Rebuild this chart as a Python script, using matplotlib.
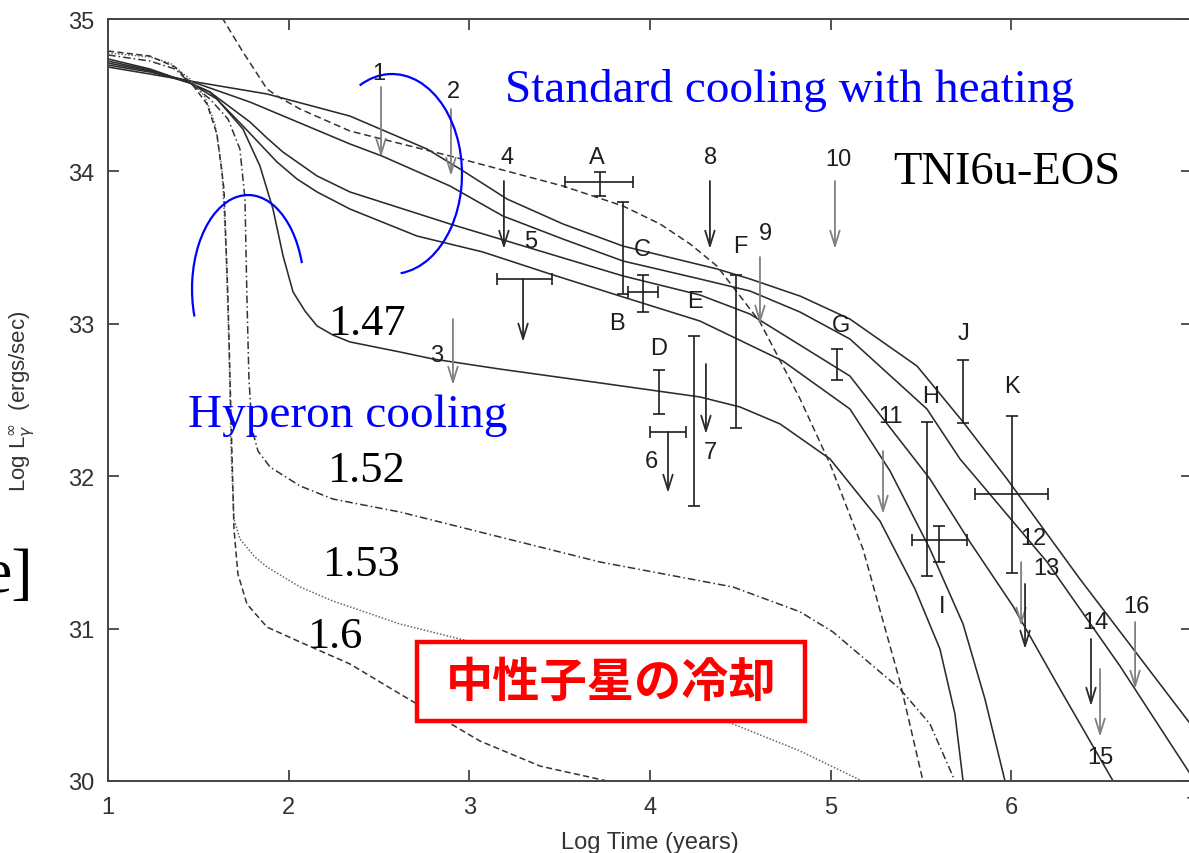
import numpy as np
import matplotlib
matplotlib.use("Agg")
import matplotlib.pyplot as plt
from matplotlib.patches import Arc, Rectangle

# ---------------------------------------------------------------
# Cooling curves: log t (yr) vs log L_gamma^inf (erg/s)
# ---------------------------------------------------------------
# standard cooling with heating (four solid curves)
std_a_x = [1.000, 1.232, 1.454, 1.880, 2.339, 2.765, 2.948, 3.208, 3.518, 3.850,
           4.370, 4.553, 4.830, 5.106, 5.477, 5.732, 5.975, 6.379, 6.982, 7.000]
std_a_y = [34.685, 34.639, 34.593, 34.508, 34.363, 34.147, 34.016, 33.819, 33.655, 33.510,
           33.360, 33.294, 33.182, 33.031, 32.723, 32.356, 31.982, 31.325, 30.387, 30.360]

std_b_x = [1.000, 1.232, 1.454, 1.786, 2.339, 2.516, 2.893, 3.186, 3.518, 3.850,
           4.276, 4.553, 4.830, 5.106, 5.532, 5.715, 5.809, 6.197, 6.600, 6.982, 7.000]
std_b_y = [34.698, 34.652, 34.593, 34.455, 34.180, 34.101, 33.904, 33.707, 33.556, 33.412,
           33.294, 33.215, 33.077, 32.900, 32.441, 32.113, 31.982, 31.437, 30.755, 30.059, 30.030]

std_c_x = [1.000, 1.232, 1.454, 1.564, 1.786, 1.880, 1.968, 2.157, 2.339, 2.893, 3.446,
           3.850, 4.276, 4.553, 5.106, 5.549, 5.770, 6.008, 6.268, 6.562]
std_c_y = [34.711, 34.659, 34.580, 34.521, 34.324, 34.219, 34.127, 33.970, 33.865, 33.655, 33.458,
           33.314, 33.189, 33.064, 32.657, 31.982, 31.568, 31.148, 30.604, 30.000]

std_d_x = [1.000, 1.232, 1.454, 1.564, 1.747, 1.841, 1.935, 2.046, 2.157, 2.339, 2.710, 3.075,
           3.446, 3.850, 4.276, 4.735, 5.106, 5.328, 5.549, 5.732, 5.853, 5.964]
std_d_y = [34.724, 34.665, 34.580, 34.521, 34.298, 34.180, 34.062, 33.950, 33.865, 33.753, 33.576, 33.471,
           33.327, 33.176, 33.018, 32.756, 32.441, 32.034, 31.522, 31.030, 30.538, 30.000]

# heating curve that starts above the frame (dashed)
heat_x = [1.553, 1.636, 1.747, 1.880, 1.935, 2.063, 2.339, 2.893, 3.518, 3.850,
          4.055, 4.221, 4.370, 4.608, 4.830, 4.996, 5.178, 5.383, 5.510]
heat_y = [35.164, 35.000, 34.783, 34.541, 34.495, 34.409, 34.265, 34.101, 33.904, 33.773,
          33.655, 33.524, 33.379, 33.012, 32.507, 32.080, 31.522, 30.650, 30.000]

# hyperon cooling, M = 1.47 (solid)
m147_x = [1.000, 1.232, 1.454, 1.603, 1.747, 1.841, 1.913, 1.969, 2.024, 2.090, 2.157, 2.245,
          2.339, 2.616, 2.799, 3.169, 3.723, 4.276, 4.498, 4.719, 4.996, 5.272, 5.466, 5.604,
          5.687, 5.732]
m147_y = [34.738, 34.672, 34.580, 34.475, 34.278, 34.035, 33.753, 33.445, 33.209, 33.084, 32.986, 32.926,
          32.881, 32.815, 32.769, 32.703, 32.612, 32.520, 32.454, 32.343, 32.113, 31.706, 31.260, 30.866,
          30.440, 30.000]

# M = 1.52 (dash-dot)
m152_x = [1.000, 1.232, 1.371, 1.454, 1.564, 1.664, 1.730, 1.758, 1.769, 1.780, 1.797, 1.830,
          1.897, 2.063, 2.245, 2.616, 3.169, 3.723, 4.459, 4.830, 5.012, 5.383, 5.549, 5.687]
m152_y = [34.764, 34.724, 34.672, 34.580, 34.475, 34.344, 34.147, 33.819, 33.163, 32.638, 32.310, 32.165,
          32.060, 31.936, 31.850, 31.765, 31.601, 31.437, 31.273, 31.110, 30.978, 30.604, 30.374, 30.000]

# M = 1.53 (dotted)
m153_x = [1.000, 1.232, 1.343, 1.454, 1.537, 1.592, 1.631, 1.653, 1.670, 1.681, 1.697,
          1.730, 1.813, 1.880, 2.063, 2.245, 2.616, 3.169, 3.723, 4.348, 4.830, 5.173]
m153_y = [34.777, 34.751, 34.711, 34.606, 34.488, 34.311, 34.016, 33.491, 32.835, 32.178, 31.719,
          31.588, 31.470, 31.404, 31.273, 31.181, 31.030, 30.866, 30.689, 30.427, 30.197, 30.000]

# M = 1.6 (dashed)
m160_x = [1.000, 1.232, 1.371, 1.465, 1.548, 1.603, 1.642, 1.664, 1.681, 1.697,
          1.719, 1.769, 1.880, 2.063, 2.339, 2.616, 3.059, 3.391, 3.762]
m160_y = [34.790, 34.757, 34.685, 34.573, 34.442, 34.245, 33.884, 33.163, 32.375, 31.654,
          31.358, 31.161, 31.010, 30.912, 30.768, 30.571, 30.262, 30.098, 30.000]

# ---------------------------------------------------------------
# Observations
# ---------------------------------------------------------------
# detections with vertical error ranges
det_names = ["A", "B", "C", "D", "E", "F", "G", "H", "I", "J", "K"]
det_x = [3.723, 3.850, 3.961, 4.049, 4.243, 4.475, 5.034, 5.532, 5.599, 5.732, 6.003]
det_ylo = [33.839, 33.196, 33.077, 32.408, 31.804, 32.316, 32.631, 31.345, 31.437, 32.349, 31.365]
det_yhi = [33.996, 33.799, 33.320, 32.697, 32.920, 33.320, 32.835, 32.356, 31.673, 32.762, 32.395]
# detections that also carry an age range (name -> x_lo, x_hi, y)
age_names = ["A", "C", "I", "K"]
age_xlo = [3.529, 3.878, 5.449, 5.798]
age_xhi = [3.905, 4.044, 5.754, 6.202]
age_y = [33.930, 33.209, 31.581, 31.883]
det_label_x = [3.706, 3.817, 3.955, 4.049, 4.248, 4.498, 5.056, 5.555, 5.615, 5.732, 6.003]
det_label_y = [34.094, 33.005, 33.491, 32.841, 33.149, 33.510, 32.992, 32.526, 31.148, 32.940, 32.592]

# upper limits
lim_names = ["1", "2", "3", "4", "5", "6", "7", "8", "9", "10", "11", "12", "13", "14", "15", "16"]
lim_x = [2.511, 2.898, 2.909, 3.191, 3.297, 4.099, 4.309, 4.331, 4.608, 5.023,
         5.289, 6.053, 6.075, 6.440, 6.490, 6.684]
lim_ytop = [34.554, 34.409, 33.031, 33.937, 33.294, 32.290, 32.736, 33.937, 33.438, 33.937,
            32.165, 31.437, 31.293, 30.932, 30.735, 31.043]
lim_ytip = [34.094, 33.970, 32.598, 33.491, 32.881, 31.890, 32.277, 33.491, 32.999, 33.491,
            31.752, 31.017, 30.866, 30.492, 30.289, 30.604]
lim_dark = [False, False, False, True, True, True, True, True, False, False,
            False, False, True, True, False, False]
lim_label_x = [2.500, 2.909, 2.821, 3.208, 3.341, 4.005, 4.331, 4.337, 4.636, 5.040,
               5.328, 6.119, 6.191, 6.462, 6.490, 6.689]
lim_label_y = [34.646, 34.528, 32.795, 34.094, 33.543, 32.100, 32.159, 34.094, 33.596, 34.081,
               32.395, 31.594, 31.397, 31.043, 30.157, 31.148]
# upper limits with an age range (name -> x_lo, x_hi)
lim_age_names = ["5", "6"]
lim_age_xlo = [3.153, 3.999]
lim_age_xhi = [3.457, 4.199]

# ---------------------------------------------------------------
SANS = ["Liberation Sans", "DejaVu Sans"]
SERIF = ["Liberation Serif", "DejaVu Serif"]
CJK = ["Noto Sans CJK JP", "DejaVu Sans"]
LINE = "#2b2b2b"
INK = "#1e1e1e"

fig = plt.figure(figsize=(11.89, 8.54), dpi=100)
fig.patch.set_facecolor("white")
ax = fig.add_axes([0.09083, 0.08431, 0.91186, 0.89227])

# curves
ax.plot(std_a_x, std_a_y, color=LINE, lw=1.15, zorder=2)
ax.plot(std_b_x, std_b_y, color=LINE, lw=1.15, zorder=2)
ax.plot(std_c_x, std_c_y, color=LINE, lw=1.15, zorder=2)
ax.plot(std_d_x, std_d_y, color=LINE, lw=1.15, zorder=2)
ax.plot(m147_x, m147_y, color=LINE, lw=1.15, zorder=2)
ax.plot(heat_x, heat_y, color="#333333", lw=1.1, dashes=(4.5, 2.5), zorder=2)
ax.plot(m152_x, m152_y, color="#333333", lw=1.1, dashes=(5, 2, 1, 2), zorder=2)
ax.plot(m153_x, m153_y, color="#666666", lw=1.1, dashes=(1, 1.2), zorder=2)
ax.plot(m160_x, m160_y, color="#333333", lw=1.1, dashes=(4, 2.2), zorder=2)

# detections
for i, name in enumerate(det_names):
    yc = 0.5 * (det_ylo[i] + det_yhi[i])
    if name in age_names:
        yc = age_y[age_names.index(name)]
    ax.errorbar([det_x[i]], [yc],
                yerr=[[yc - det_ylo[i]], [det_yhi[i] - yc]],
                fmt="none", ecolor=INK, elinewidth=1.2, capsize=4, capthick=1.2, zorder=3)
    ax.text(det_label_x[i], det_label_y[i], name, fontsize=17, family=SANS,
            color=INK, ha="center", va="center", zorder=6)
for j, name in enumerate(age_names):
    xc = det_x[det_names.index(name)]
    ax.errorbar([xc], [age_y[j]],
                xerr=[[xc - age_xlo[j]], [age_xhi[j] - xc]],
                fmt="none", ecolor=INK, elinewidth=1.2, capsize=4, capthick=1.2, zorder=3)

# upper limits
for i, name in enumerate(lim_names):
    col = "#2a2a2a" if lim_dark[i] else "#808080"
    ax.annotate("", xy=(lim_x[i], lim_ytip[i]), xytext=(lim_x[i], lim_ytop[i]),
                arrowprops=dict(arrowstyle="->,head_length=0.55,head_width=0.17",
                                color=col, lw=1.3, shrinkA=0, shrinkB=0,
                                mutation_scale=20), zorder=3)
    ax.text(lim_label_x[i], lim_label_y[i], name, fontsize=17, family=SANS,
            color=INK, ha="center", va="center", zorder=6)
for j, name in enumerate(lim_age_names):
    k = lim_names.index(name)
    ax.errorbar([lim_x[k]], [lim_ytop[k]],
                xerr=[[lim_x[k] - lim_age_xlo[j]], [lim_age_xhi[j] - lim_x[k]]],
                fmt="none", ecolor=INK, elinewidth=1.2, capsize=4, capthick=1.2, zorder=3)


# blue marker arcs (parametric angles converted for matplotlib's Arc)
def ellipse_arc(cx, cy, rx, ry, t1, t2):
    w, h = 2 * rx, 2 * ry
    a1 = np.degrees(np.arctan2(h * np.sin(np.radians(t1)), w * np.cos(np.radians(t1))))
    a2 = np.degrees(np.arctan2(h * np.sin(np.radians(t2)), w * np.cos(np.radians(t2))))
    ax.add_patch(Arc((cx, cy), w, h, theta1=a1, theta2=a2,
                     color="#0000ff", lw=1.6, zorder=4))


ellipse_arc(2.572, 33.983, 0.387, 0.656, -83, 117.6)
ellipse_arc(1.775, 33.228, 0.310, 0.617, 16, 197)

# annotations
ax.text(3.197, 34.462, "Standard cooling with heating", fontsize=34, family=SERIF,
        color="#0000ff", ha="left", va="baseline", zorder=6)
ax.text(1.443, 32.329, "Hyperon cooling", fontsize=34, family=SERIF,
        color="#0000ff", ha="left", va="baseline", zorder=6)
ax.text(5.344, 33.924, "TNI6u-EOS", fontsize=33.5, family=SERIF,
        color="black", ha="left", va="baseline", zorder=6)
ax.text(2.217, 32.933, "1.47", fontsize=32, family=SERIF, ha="left", va="baseline", zorder=6)
ax.text(2.212, 31.968, "1.52", fontsize=32, family=SERIF, ha="left", va="baseline", zorder=6)
ax.text(2.184, 31.352, "1.53", fontsize=32, family=SERIF, ha="left", va="baseline", zorder=6)
ax.text(2.101, 30.879, "1.6", fontsize=32, family=SERIF, ha="left", va="baseline", zorder=6)

ax.add_patch(Rectangle((2.710, 30.394), 2.147, 0.518, facecolor="white",
                       edgecolor="#ff0000", lw=3.2, zorder=5))
ax.text(3.784, 30.653, "中性子星の冷却", fontsize=34, family=CJK, fontweight="bold",
        color="#ff0000", ha="center", va="center", zorder=6)

# axes
ax.set_xlim(1, 7)
ax.set_ylim(30, 35)
ax.set_xticks([1, 2, 3, 4, 5, 6, 7])
ax.set_yticks([30, 31, 32, 33, 34, 35])
for s in ax.spines.values():
    s.set_color("#444444")
    s.set_linewidth(1.4)
ax.tick_params(direction="in", length=8, width=1.3, color="#444444",
               top=True, right=True, labelsize=17, labelcolor="#333333")
ax.tick_params(axis="x", pad=10.5)
ax.tick_params(axis="y", pad=10)
for lab in ax.get_xticklabels() + ax.get_yticklabels():
    lab.set_family(SANS)

ax.set_xlabel("Log Time (years)", fontsize=17, family=SANS, color="#333333")
ax.set_ylabel(r"Log L$_\gamma^\infty$  (ergs/sec)", fontsize=16, family=SANS, color="#333333")
ax.xaxis.set_label_coords(0.5, -0.066)
ax.yaxis.set_label_coords(-0.0655, 0.5)

fig.text(0.028, 0.307, "e]", fontsize=46, family=SERIF, ha="right", va="baseline")

fig.savefig("out.png", dpi=100, facecolor="white")
